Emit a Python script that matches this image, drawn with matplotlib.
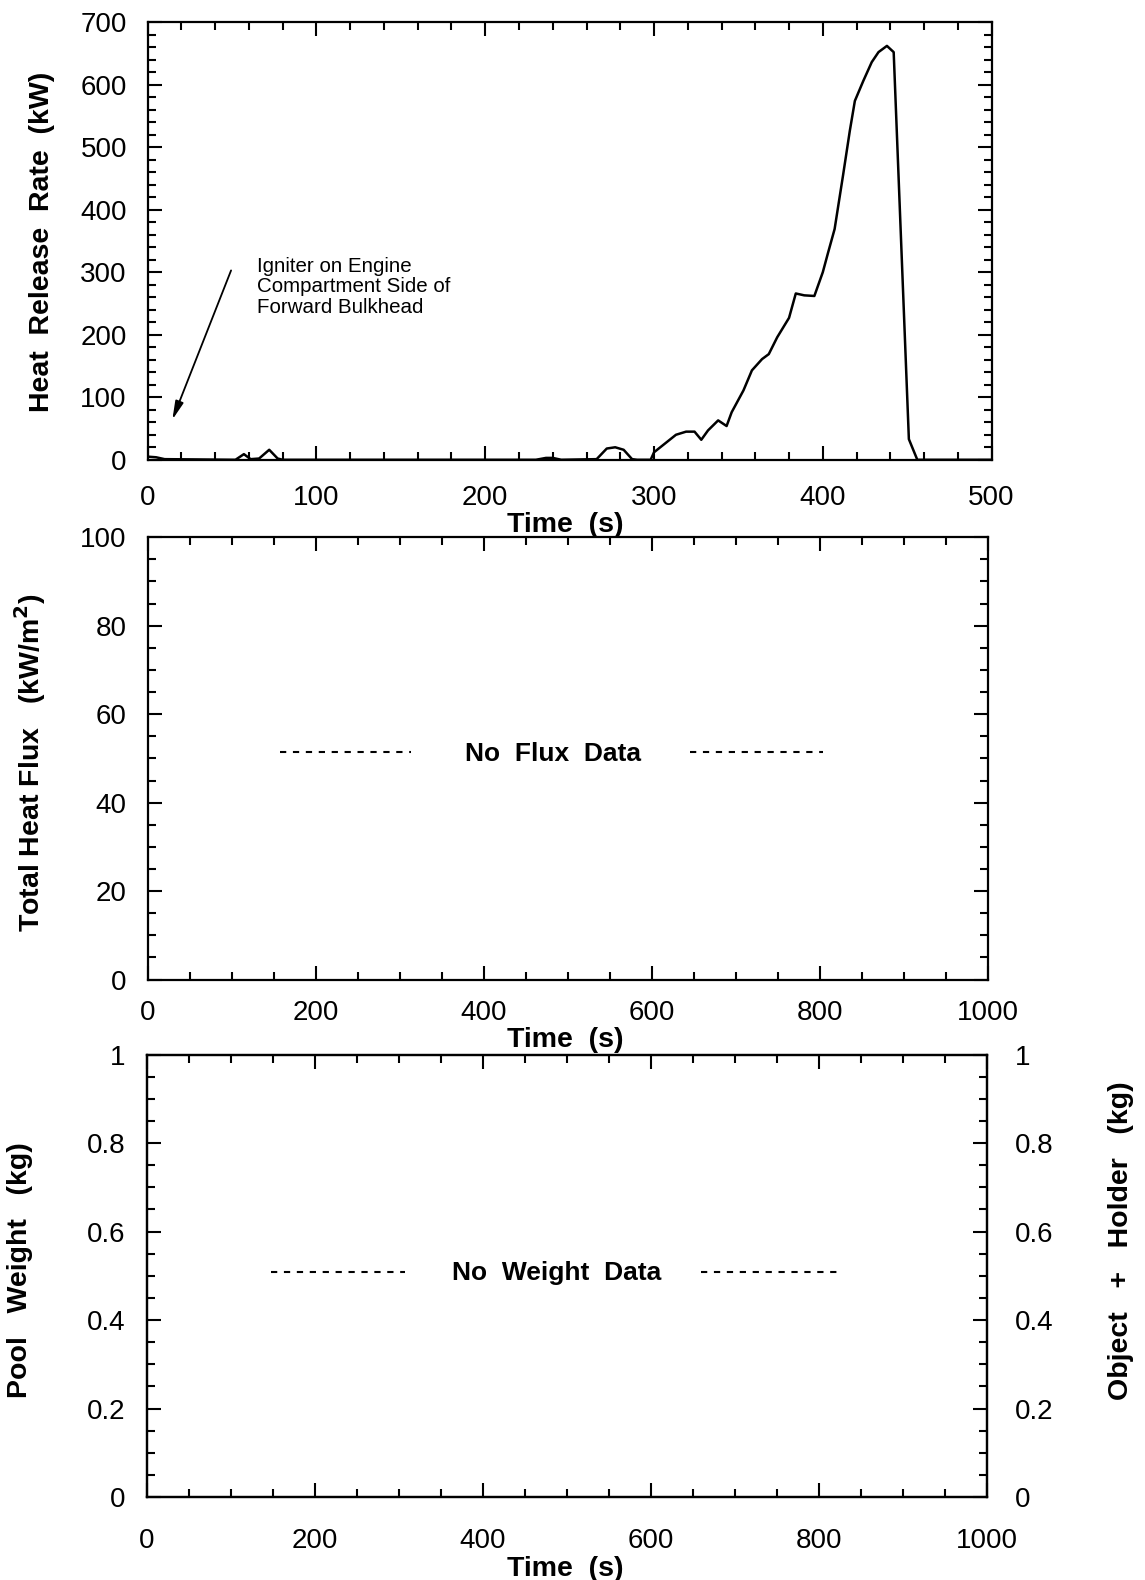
import matplotlib
matplotlib.use('Agg')
import matplotlib.pyplot as plt
from matplotlib.ticker import MultipleLocator

plt.rcParams['font.family'] = ['Liberation Sans', 'DejaVu Sans']

# heat release rate
time_s = [0, 5, 10, 52, 57, 61, 66, 72, 77, 80, 230, 236, 240, 245,
          266, 272, 277, 282, 287, 290, 298, 300, 313, 319, 324, 328,
          332, 338, 343, 346, 353, 358, 364, 368, 373, 380, 384, 389,
          395, 400, 403, 407, 412, 416, 419, 424, 429, 433, 438, 442,
          451, 456, 500]
hrr_kw = [5, 4, 1, 0, 9, 1, 2, 16, 2, 0, 0, 3, 3, 0,
          1, 18, 20, 16, 1, 0, 0, 12, 40, 45, 45, 32,
          47, 63, 54, 76, 111, 143, 161, 169, 196, 227, 266, 263,
          262, 300, 330, 369, 455, 526, 574, 606, 636, 652, 662, 652,
          33, 0, 0]

# "no data" placeholder dashes (x ranges and level)
flux_dash_x = [(157, 313), (645, 804)]
flux_dash_y = 51.5
flux_text_xy = (482, 51)
weight_dash_x = [(148, 308), (660, 823)]
weight_dash_y = 0.509
weight_text_xy = (488, 0.507)

igniter_tip = (14, 60)
igniter_tail = (50, 307)
igniter_text_xy = (65, 325)

TICK_FS = 20
LABEL_FS = 20.5


def style_axes(ax, xmaj, xmin, ymaj, ymin, right=True, xpad=16):
    ax.xaxis.set_major_locator(MultipleLocator(xmaj))
    ax.xaxis.set_minor_locator(MultipleLocator(xmin))
    ax.yaxis.set_major_locator(MultipleLocator(ymaj))
    ax.yaxis.set_minor_locator(MultipleLocator(ymin))
    ax.tick_params(which='both', direction='in', top=True, right=right,
                   width=1.5, labelsize=TICK_FS)
    ax.tick_params(which='major', length=10)
    ax.tick_params(which='minor', length=6)
    ax.tick_params(axis='x', pad=xpad)
    ax.tick_params(axis='y', pad=15)
    for s in ax.spines.values():
        s.set_linewidth(1.6)


fig = plt.figure(figsize=(11.45, 15.80), dpi=100)

# top: heat release rate
ax1 = fig.add_axes([0.129, 0.709, 0.737, 0.277])
ax1.plot(time_s, hrr_kw, color='black', lw=1.8)
ax1.set_xlim(0, 500)
ax1.set_ylim(0, 700)
style_axes(ax1, 100, 20, 100, 20, xpad=18)
ax1.annotate('', xy=igniter_tip, xytext=igniter_tail,
             arrowprops=dict(arrowstyle='-|>,head_length=1.1,head_width=0.25',
                             color='black', lw=1.3))
ax1.text(*igniter_text_xy, 'Igniter on Engine\nCompartment Side of\nForward Bulkhead',
         fontsize=14.8, va='top', ha='left', linespacing=1.12)

# middle: heat flux
ax2 = fig.add_axes([0.129, 0.380, 0.734, 0.280])
ax2.set_xlim(0, 1000)
ax2.set_ylim(0, 100)
style_axes(ax2, 200, 50, 20, 5, xpad=15)
for x0, x1 in flux_dash_x:
    ax2.plot([x0, x1], [flux_dash_y, flux_dash_y], color='black', lw=1.5,
             linestyle=(0, (3, 3.2)))
ax2.text(*flux_text_xy, 'No  Flux  Data', fontsize=19, fontweight='bold',
         ha='center', va='center')

# bottom: weights
ax3 = fig.add_axes([0.128, 0.0525, 0.734, 0.280])
ax3.set_xlim(0, 1000)
ax3.set_ylim(0, 1)
style_axes(ax3, 200, 50, 0.2, 0.05, right=False, xpad=22)
ax3.set_yticks([0, 0.2, 0.4, 0.6, 0.8, 1.0], ['0', '0.2', '0.4', '0.6', '0.8', '1'])
for x0, x1 in weight_dash_x:
    ax3.plot([x0, x1], [weight_dash_y, weight_dash_y], color='black', lw=1.5,
             linestyle=(0, (3, 3.2)))
ax3.text(*weight_text_xy, 'No  Weight  Data', fontsize=19, fontweight='bold',
         ha='center', va='center')

ax3r = ax3.twinx()
ax3r.set_ylim(0, 1)
ax3r.yaxis.set_major_locator(MultipleLocator(0.2))
ax3r.yaxis.set_minor_locator(MultipleLocator(0.05))
ax3r.set_yticks([0, 0.2, 0.4, 0.6, 0.8, 1.0], ['0', '0.2', '0.4', '0.6', '0.8', '1'])
ax3r.tick_params(which='both', direction='in', width=1.5, labelsize=TICK_FS, pad=20)
ax3r.tick_params(which='major', length=10)
ax3r.tick_params(which='minor', length=6)
for s in ax3r.spines.values():
    s.set_linewidth(1.6)

# axis titles
fig.text(0.0367, 0.847, 'Heat  Release  Rate  (kW)', rotation=90, fontsize=LABEL_FS,
         fontweight='bold', ha='center', va='center')
fig.text(0.0262, 0.517, 'Total Heat Flux   (kW/m$^\\mathbf{2}$)', rotation=90,
         fontsize=LABEL_FS, fontweight='bold', ha='center', va='center')
fig.text(0.0175, 0.196, 'Pool   Weight   (kg)', rotation=90, fontsize=LABEL_FS,
         fontweight='bold', ha='center', va='center')
fig.text(0.979, 0.215, 'Object   +   Holder   (kg)', rotation=90, fontsize=LABEL_FS,
         fontweight='bold', ha='center', va='center')
for y in (0.6675, 0.3415, 0.0068):
    fig.text(0.494, y, 'Time  (s)', fontsize=LABEL_FS, fontweight='bold',
             ha='center', va='center')

fig.savefig('out.png', dpi=100)
